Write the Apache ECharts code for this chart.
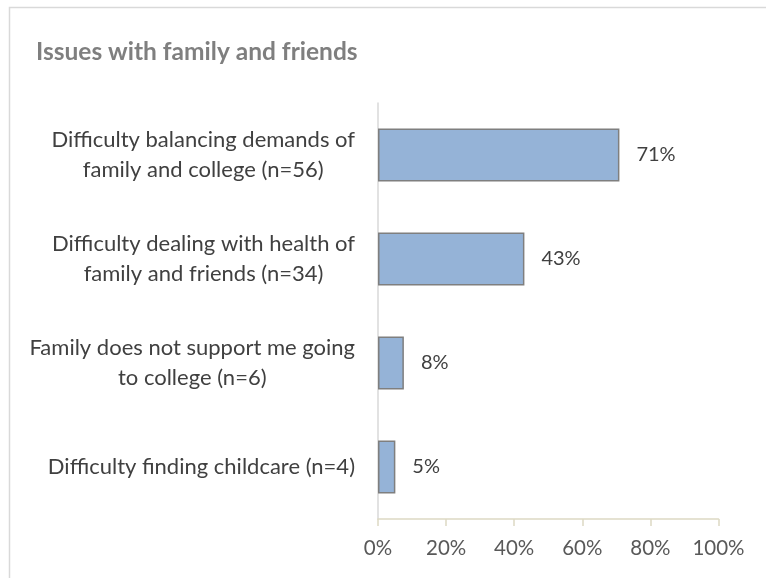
<!DOCTYPE html>
<html>
<head>
<meta charset="utf-8">
<script src="https://cdn.jsdelivr.net/npm/echarts@6/dist/echarts.min.js"></script>
<style>html,body{margin:0;padding:0;background:#fff}#c{width:766px;height:578px}</style>
</head>
<body>
<div id="c"></div>
<script>
var titleText = 'Issues with family and friends';
var categories = [
  'Difficulty balancing demands of\nfamily and college (n=56)',
  'Difficulty dealing with health of\nfamily and friends (n=34)',
  'Family does not support me going\nto college (n=6)',
  'Difficulty finding childcare (n=4)'
];
var values = [70.9, 43.0, 7.6, 5.1];
var xTicks = { min: 0, max: 100, interval: 20 };

var FONT = 'Lato';
var chart = echarts.init(document.getElementById('c'), null, { renderer: 'canvas' });
chart.setOption({
  animation: false,
  backgroundColor: '#ffffff',
  graphic: [{
    type: 'rect', left: 7, top: 5, z: -10, silent: true,
    shape: { width: 820, height: 700 },
    style: { fill: 'none', stroke: '#D9D9D9', lineWidth: 1.5 }
  }],
  title: {
    text: titleText, left: 31, top: 35,
    textStyle: { fontFamily: FONT, fontWeight: 'bold', fontSize: 24.5, color: '#7F7F7F' }
  },
  grid: { left: 378, right: 47.5, top: 103, bottom: 59, containLabel: false },
  xAxis: {
    type: 'value', min: xTicks.min, max: xTicks.max, interval: xTicks.interval,
    axisLine: { show: true, lineStyle: { color: '#DDD9C3', width: 1.5 } },
    axisTick: { show: true, length: 7, lineStyle: { color: '#DDD9C3', width: 1.5 } },
    splitLine: { show: false },
    axisLabel: { formatter: '{value}%', margin: 19, color: '#595959', fontFamily: FONT, fontSize: 20.5 }
  },
  yAxis: {
    type: 'category', inverse: true, data: categories,
    axisLine: { show: true, lineStyle: { color: '#D9D9D9', width: 1.5 } },
    axisTick: { show: false },
    axisLabel: {
      margin: 23, lineHeight: 30, color: '#404040', fontFamily: FONT, fontSize: 22,
      formatter: function (v) {
        return v.split('\n').map(function (l) { return '{c|' + l + '}'; }).join('\n');
      },
      rich: { c: { align: 'center', lineHeight: 30, color: '#404040', fontFamily: FONT, fontSize: 22 } }
    }
  },
  series: [{
    type: 'bar', data: values, barWidth: '51%',
    itemStyle: { color: '#95B3D7', borderColor: '#7F7F7F', borderWidth: 1.5 },
    label: {
      show: true, position: 'right', distance: 17,
      formatter: function (p) { return Math.round(p.value) + '%'; },
      color: '#404040', fontFamily: FONT, fontSize: 20
    }
  }]
});
</script>
</body>
</html>
